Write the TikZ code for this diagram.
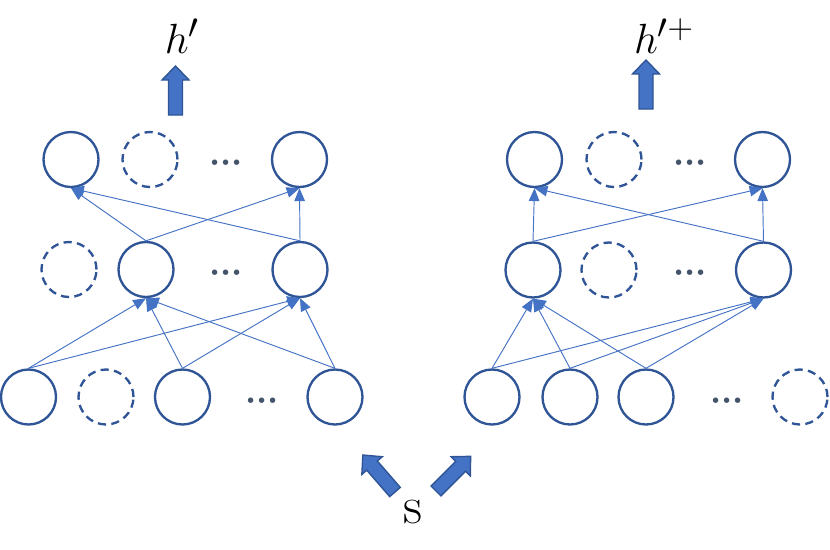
\documentclass[tikz,border=0pt]{standalone}
\usepackage{tikz}
\usetikzlibrary{arrows.meta, positioning}
\definecolor{unitblue}{HTML}{2F5597}
\definecolor{edgeblue}{HTML}{4472C4}
\definecolor{dotgray}{HTML}{44546A}

\tikzset{
  unit/.style={circle, draw=unitblue, line width=2pt, minimum size=1.65cm, inner sep=0pt},
  dropped/.style={unit, dashed, dash pattern=on 7pt off 4.5pt},
  ellip/.style={text=dotgray, font=\Huge\boldmath, scale=1.2, inner sep=0pt},
  conn/.style={draw=edgeblue, line width=0.8pt, -{Triangle[length=11pt, width=9pt]}},
  biglabel/.style={font=\Huge, scale=1.45},
  arrowbody/.style={fill=edgeblue, draw=unitblue, line width=1.2pt, line join=miter},
  pics/bigarrow/.style={code={
    \draw[arrowbody] (-7,0) -- (-7,-35) -- (-13.5,-35) -- (0,-49) -- (13.5,-35) -- (7,-35) -- (7,0) -- cycle;
  }}
}
\newcommand{\unitdots}{${\cdot}{\cdot}{\cdot}$}

\begin{document}
\begin{tikzpicture}[x=0.03cm, y=-0.03cm]
  \useasboundingbox (0,0) rectangle (830,549);

  % Left network
  \node[unit]    (outL1) at (71,159.5) {};
  \node[dropped] (outL2) at (150,159.5) {};
  \node[ellip]   (outLd) at (226,163) {\unitdots};
  \node[unit]    (outL3) at (299.5,159.5) {};

  \node[dropped] (hidL0) at (69,269.5) {};
  \node[unit]    (hidL1) at (146,269.5) {};
  \node[ellip]   (hidLd) at (226,273) {\unitdots};
  \node[unit]    (hidL2) at (300,269.5) {};

  \node[unit]    (inL1) at (28.5,397) {};
  \node[dropped] (inL2) at (106,397) {};
  \node[unit]    (inL3) at (182.5,397) {};
  \node[ellip]   (inLd) at (262,401) {\unitdots};
  \node[unit]    (inL4) at (335,397) {};

  \foreach \a in {hidL1, hidL2} {
    \foreach \b in {outL1, outL3} {
      \draw[conn] (\a.north) -- (\b.south);
    }
  }
  \foreach \a in {inL1, inL3, inL4} {
    \foreach \b in {hidL1, hidL2} {
      \draw[conn] (\a.north) -- (\b.south);
    }
  }

  % Right network
  \node[unit]    (outR1) at (534.5,159.5) {};
  \node[dropped] (outR2) at (614,159.5) {};
  \node[ellip]   (outRd) at (690,163) {\unitdots};
  \node[unit]    (outR3) at (762.5,159.5) {};

  \node[unit]    (hidR1) at (533,270) {};
  \node[dropped] (hidR0) at (609,270) {};
  \node[ellip]   (hidRd) at (690,273) {\unitdots};
  \node[unit]    (hidR2) at (763.5,270) {};

  \node[unit]    (inR1) at (492,397) {};
  \node[unit]    (inR2) at (570,397) {};
  \node[unit]    (inR3) at (646,397) {};
  \node[ellip]   (inRd) at (727,401) {\unitdots};
  \node[dropped] (inR4) at (800,397) {};

  \foreach \a in {hidR1, hidR2} {
    \foreach \b in {outR1, outR3} {
      \draw[conn] (\a.north) -- (\b.south);
    }
  }
  \foreach \a in {inR1, inR2, inR3} {
    \foreach \b in {hidR1, hidR2} {
      \draw[conn] (\a.north) -- (\b.south);
    }
  }

  % Outputs and input
  \pic at (175.5,115) {bigarrow};
  \pic at (646,109) {bigarrow};
  \node[biglabel] (hOut) at (182,36) {$h'$};
  \node[biglabel] (hPlus) at (664,36) {$h'^{+}$};

  \pic[rotate=41] at (395,492) {bigarrow};
  \pic[rotate=-45] at (436,491) {bigarrow};
  \node[biglabel, scale=1.25] (sIn) at (413,512) {$\mathrm{s}$};
\end{tikzpicture}
\end{document}
